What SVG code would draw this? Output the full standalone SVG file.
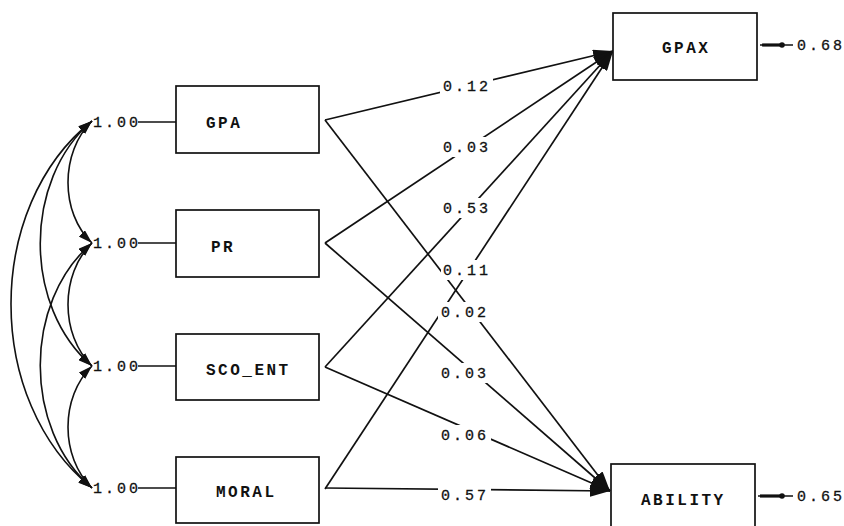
<svg xmlns="http://www.w3.org/2000/svg" width="844" height="526" viewBox="0 0 844 526">
<style>
.ln{stroke:#111;stroke-width:1.7;fill:none}
.box{fill:#fff;stroke:#111;stroke-width:1.7}
.num{font-family:"Liberation Mono",monospace;font-size:15px;letter-spacing:3px;fill:#111;stroke:#111;stroke-width:0.3}
.lbl{font-family:"Liberation Mono",monospace;font-size:16px;font-weight:bold;letter-spacing:2.5px;fill:#111}
.bg{fill:#fff}
.path{stroke:#111;stroke-width:1.7;fill:none;marker-end:url(#big)}
.cov{stroke:#111;stroke-width:1.6;fill:none;marker-start:url(#smallS);marker-end:url(#small)}
</style>
<defs>
<marker id="big" markerUnits="userSpaceOnUse" markerWidth="20" markerHeight="12" refX="20" refY="6" orient="auto"><path d="M0,0 L20,6 L0,12 z" fill="#111"/></marker>
<marker id="small" markerUnits="userSpaceOnUse" markerWidth="14" markerHeight="9" refX="14" refY="4.5" orient="auto"><path d="M0,0 L14,4.5 L0,9 z" fill="#111"/></marker>
<marker id="smallS" markerUnits="userSpaceOnUse" markerWidth="14" markerHeight="9" refX="14" refY="4.5" orient="auto-start-reverse"><path d="M0,0 L14,4.5 L0,9 z" fill="#111"/></marker>
</defs>
<rect width="844" height="526" fill="#fff"/>

<g id="connectors">
  <line class="ln" x1="138" y1="122" x2="176" y2="122"/>
  <line class="ln" x1="138" y1="243" x2="176" y2="243"/>
  <line class="ln" x1="138" y1="366" x2="176" y2="366"/>
  <line class="ln" x1="138" y1="488" x2="176" y2="488"/>
  <path class="cov" d="M92,121 C60,152 60,213 92,243"/>
  <path class="cov" d="M92,243 C60,274 60,335 92,366"/>
  <path class="cov" d="M92,366 C60,397 60,457 92,488"/>
  <path class="cov" d="M92,121 C23,180 23,307 92,366"/>
  <path class="cov" d="M92,243 C23,302 23,429 92,488"/>
  <path class="cov" d="M92,121 C-16,207 -16,401 92,488"/>
  <line class="path" x1="325" y1="120" x2="613" y2="51"/>
  <line class="path" x1="325" y1="243" x2="613" y2="51"/>
  <line class="path" x1="325" y1="367" x2="613" y2="51"/>
  <line class="path" x1="325" y1="489" x2="613" y2="51"/>
  <line class="path" x1="325" y1="120" x2="610" y2="491"/>
  <line class="path" x1="325" y1="243" x2="610" y2="491"/>
  <line class="path" x1="325" y1="367" x2="610" y2="491"/>
  <line class="path" x1="325" y1="488" x2="610" y2="491"/>
  <rect class="bg" x="440" y="76" width="53" height="20"/><text class="num" x="443" y="91">0.12</text>
  <rect class="bg" x="440" y="137" width="53" height="20"/><text class="num" x="443" y="152">0.03</text>
  <rect class="bg" x="440" y="198" width="53" height="20"/><text class="num" x="443" y="213">0.53</text>
  <rect class="bg" x="441" y="260" width="52" height="20"/><text class="num" x="443" y="275">0.11</text>
  <rect class="bg" x="438" y="302" width="53" height="20"/><text class="num" x="441" y="317">0.02</text>
  <rect class="bg" x="438" y="363" width="53" height="20"/><text class="num" x="441" y="378">0.03</text>
  <rect class="bg" x="438" y="425" width="53" height="20"/><text class="num" x="441" y="440">0.06</text>
  <rect class="bg" x="438" y="485" width="53" height="20"/><text class="num" x="441" y="500">0.57</text>
  <line class="ln" x1="760" y1="45" x2="793" y2="45"/>
  <line stroke="#111" stroke-width="3.2" x1="762" y1="45" x2="781" y2="45"/>
  <circle cx="782" cy="45" r="2.8" fill="#111"/>
  <line class="ln" x1="758" y1="496" x2="793" y2="496"/>
  <line stroke="#111" stroke-width="3.2" x1="760" y1="496" x2="781" y2="496"/>
  <circle cx="782" cy="496" r="2.8" fill="#111"/>
</g>

<g id="GPA">
  <rect class="box" x="176" y="86" width="143" height="67"/>
  <text class="lbl" x="206" y="128">GPA</text>
  <text class="num" x="93" y="127">1.00</text>
</g>
<g id="PR">
  <rect class="box" x="176" y="210" width="143" height="67"/>
  <text class="lbl" x="211" y="252">PR</text>
  <text class="num" x="93" y="248">1.00</text>
</g>
<g id="SCO_ENT">
  <rect class="box" x="176" y="334" width="143" height="66"/>
  <text class="lbl" x="206" y="375">SCO_ENT</text>
  <text class="num" x="93" y="371">1.00</text>
</g>
<g id="MORAL">
  <rect class="box" x="176" y="457" width="143" height="66"/>
  <text class="lbl" x="216" y="497">MORAL</text>
  <text class="num" x="93" y="493">1.00</text>
</g>
<g id="GPAX">
  <rect class="box" x="613" y="13" width="144" height="67"/>
  <text class="lbl" x="662" y="53">GPAX</text>
  <text class="num" x="797" y="50">0.68</text>
</g>
<g id="ABILITY">
  <rect class="box" x="611" y="464" width="144" height="70"/>
  <text class="lbl" x="641" y="505">ABILITY</text>
  <text class="num" x="797" y="501">0.65</text>
</g>
</svg>
